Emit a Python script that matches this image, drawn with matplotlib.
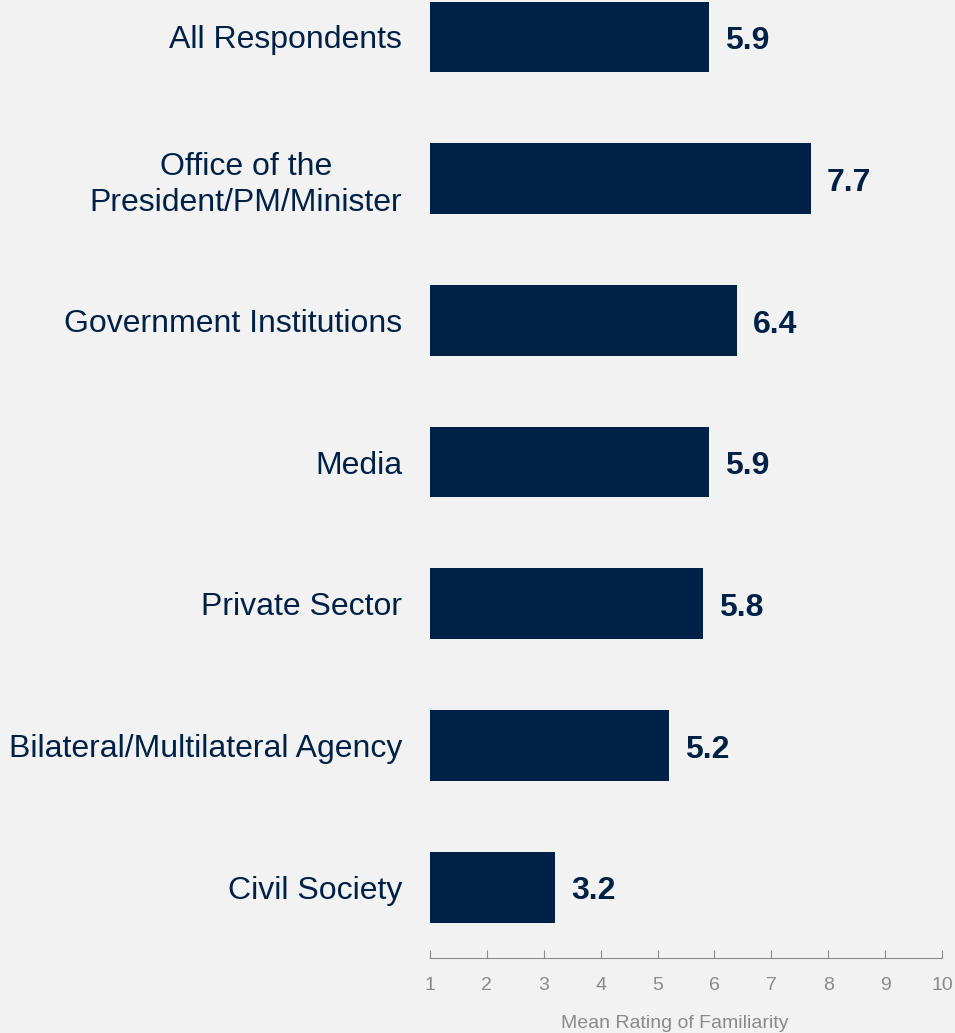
import matplotlib.pyplot as plt
from matplotlib.ticker import FixedLocator

plt.rcParams['font.family'] = ['Liberation Sans', 'DejaVu Sans']

groups = ["All Respondents", "Office of the\nPresident/PM/Minister", "Government Institutions",
          "Media", "Private Sector", "Bilateral/Multilateral Agency", "Civil Society"]
ratings = [5.9, 7.7, 6.4, 5.9, 5.8, 5.2, 3.2]
ticks = [1, 2, 3, 4, 5, 6, 7, 8, 9, 10]

navy = "#002147"
bg = "#f2f2f2"
grey = "#8a8a8a"

fig = plt.figure(figsize=(9.55, 10.33), dpi=100, facecolor=bg)
ax = fig.add_axes([430 / 955, 1 - 958 / 1033, 512 / 955, 958 / 1033])
ax.set_facecolor(bg)

pos = list(range(len(groups)))
ax.barh(pos, [r - 1 for r in ratings], left=1, height=0.5, color=navy)

for p, r in zip(pos, ratings):
    ax.text(r + 0.28, p + 0.03, f"{r:.1f}", va="center", ha="left",
            fontsize=23, fontweight="bold", color=navy)

ax.set_xlim(1, 10)
ax.set_ylim(6.5, -0.261)
ax.set_yticks(pos)
ax.set_yticklabels(groups, fontsize=23, color=navy, linespacing=1.25,
                   multialignment="center")
ax.tick_params(axis="y", length=0, pad=20)
ax.xaxis.set_major_locator(FixedLocator(ticks))
ax.tick_params(axis="x", direction="in", length=6, color=grey,
               labelcolor=grey, labelsize=14, pad=14)

for s in ["top", "right", "left"]:
    ax.spines[s].set_visible(False)
ax.spines["bottom"].set_color(grey)

ax.set_xlabel("Mean Rating of Familiarity", fontsize=14, color=grey)
ax.xaxis.set_label_coords(0.4775, -0.060)

fig.savefig("out.png", dpi=100, facecolor=bg)
